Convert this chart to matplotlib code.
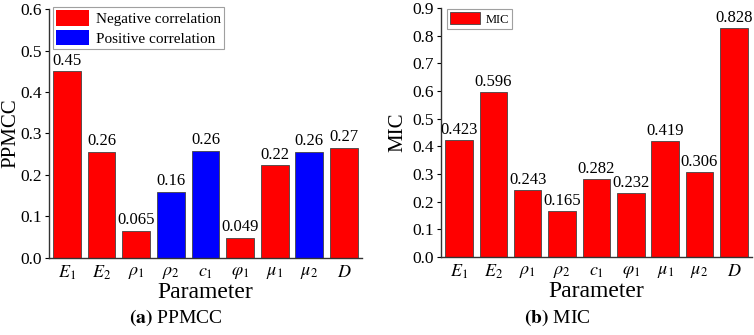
import numpy as np
import matplotlib
matplotlib.use("Agg")
import matplotlib.pyplot as plt
from matplotlib.patches import Patch

plt.rcParams['font.family'] = ['Liberation Serif', 'DejaVu Serif']
plt.rcParams['mathtext.fontset'] = 'stix'

params = [r'$E_1$', r'$E_2$', r'$\rho_1$', r'$\rho_2$', r'$c_1$',
          r'$\varphi_1$', r'$\mu_1$', r'$\mu_2$', r'$D$']
ppmcc = [0.45, 0.256, 0.065, 0.16, 0.259, 0.049, 0.224, 0.256, 0.266]
ppmcc_labels = ['0.45', '0.26', '0.065', '0.16', '0.26', '0.049', '0.22', '0.26', '0.27']
ppmcc_sign = ['neg', 'neg', 'neg', 'pos', 'pos', 'neg', 'neg', 'pos', 'neg']
mic = [0.423, 0.596, 0.243, 0.165, 0.282, 0.232, 0.419, 0.306, 0.828]
mic_labels = ['0.423', '0.596', '0.243', '0.165', '0.282', '0.232', '0.419', '0.306', '0.828']

red = '#ff0000'
blue = '#0000ff'

fig = plt.figure(figsize=(7.54, 3.35), dpi=100)
ax1 = fig.add_axes([0.065, 0.230, 0.415, 0.743])
ax2 = fig.add_axes([0.585, 0.233, 0.412, 0.743])

x = np.arange(len(params))


def style(ax, ymax, ylabel, lx):
    ax.set_xlim(-0.52, 8.52)
    ax.set_ylim(0, ymax)
    ax.set_yticks(np.arange(0, ymax + 0.001, 0.1))
    ax.set_yticklabels(['%.1f' % v for v in np.arange(0, ymax + 0.001, 0.1)])
    ax.set_xticks(x)
    ax.set_xticklabels(params, fontsize=13)
    ax.tick_params(axis='y', direction='out', length=3, labelsize=12.5, pad=2)
    ax.tick_params(axis='x', length=0, pad=4)
    for s in ['top', 'right']:
        ax.spines[s].set_visible(False)
    for s in ['left', 'bottom']:
        ax.spines[s].set_color('#333333')
        ax.spines[s].set_linewidth(1.0)
    ax.set_ylabel(ylabel, fontsize=15)
    ax.yaxis.set_label_coords(lx, 0.5)
    ax.set_xlabel('Parameter', fontsize=17, labelpad=0)


colors1 = [red if s == 'neg' else blue for s in ppmcc_sign]
ax1.bar(x, ppmcc, width=0.8, color=colors1, edgecolor='#444444', linewidth=0.6)
for xi, v, lab in zip(x, ppmcc, ppmcc_labels):
    ax1.text(xi, v + 0.006, lab, ha='center', va='bottom', fontsize=12)
style(ax1, 0.6, 'PPMCC', -0.09)
handles = [Patch(facecolor=red, edgecolor='none', label='Negative correlation'),
           Patch(facecolor=blue, edgecolor='none', label='Positive correlation')]
leg = ax1.legend(handles=handles, loc='upper left', bbox_to_anchor=(0.012, 1.007),
                 fontsize=11, frameon=True, fancybox=False, handlelength=2.2,
                 handleheight=1.15, handletextpad=0.4, borderpad=0.2, labelspacing=0.25,
                 borderaxespad=0.0)
leg.get_frame().set_edgecolor('#888888')
leg.get_frame().set_linewidth(0.8)

ax2.bar(x, mic, width=0.8, color=red, edgecolor='#444444', linewidth=0.6, label='MIC')
for xi, v, lab in zip(x, mic, mic_labels):
    ax2.text(xi, v + 0.008, lab, ha='center', va='bottom', fontsize=12)
style(ax2, 0.9, 'MIC', -0.108)
leg2 = ax2.legend(loc='upper left', bbox_to_anchor=(0.02, 0.995), fontsize=9,
                  frameon=True, fancybox=False, handlelength=2.4, handleheight=1.1,
                  handletextpad=0.4, borderpad=0.25, borderaxespad=0.0)
leg2.get_frame().set_edgecolor('#888888')
leg2.get_frame().set_linewidth(0.8)

fig.text(0.233, 0.05, r'$\mathbf{(a)}$ PPMCC', ha='center', va='center', fontsize=14)
fig.text(0.739, 0.05, r'$\mathbf{(b)}$ MIC', ha='center', va='center', fontsize=14)

fig.savefig('out.png', dpi=100)
